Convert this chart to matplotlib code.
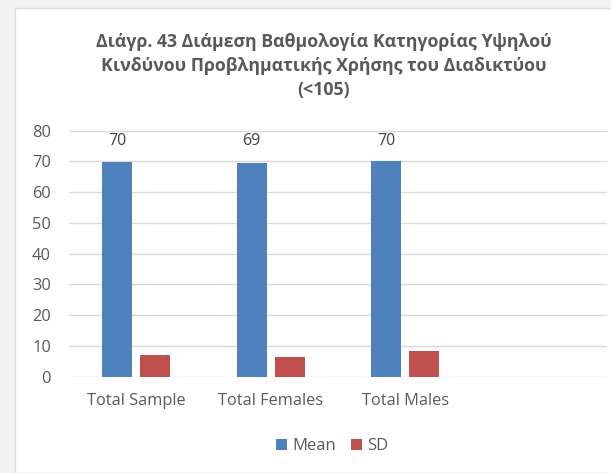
import matplotlib
matplotlib.use("Agg")
import matplotlib.pyplot as plt
from matplotlib.patches import Rectangle
import numpy as np

plt.rcParams['font.family'] = ['Open Sans', 'DejaVu Sans']

categories = ["Total Sample", "Total Females", "Total Males", ""]
mean_vals = [69.7, 69.4, 70.1]
sd_vals = [7.0, 6.3, 8.3]
mean_labels = ["70", "69", "70"]
title = ("Διάγρ. 43 Διάμεση Βαθμολογία Κατηγορίας Υψηλού\n"
         "Κινδύνου Προβληματικής Χρήσης του Διαδικτύου\n(<105)")

blue = "#4f81bd"
red = "#c0504d"
grey_txt = "#595959"

fig = plt.figure(figsize=(6.11, 4.73), dpi=100, facecolor="#f2f2f2")
# white chart area with thin border
bg = Rectangle((15 / 611, 0), 1, 1 - 8 / 473, transform=fig.transFigure,
               facecolor="white", edgecolor="#d9d9d9", lw=1, zorder=-10)
fig.add_artist(bg)

ax = fig.add_axes([69 / 611, 1 - 376.7 / 473, 538 / 611, 246 / 473])
ax.set_facecolor("none")

x = np.arange(len(categories))
w = 0.223
off = w / 2 + 0.03
b1 = ax.bar(x[:3] - off, mean_vals, w, color=blue, label="Mean", zorder=3)
b2 = ax.bar(x[:3] + off, sd_vals, w, color=red, label="SD", zorder=3)

for rect, lab in zip(b1, mean_labels):
    ax.text(rect.get_x() + rect.get_width() / 2, 76.5, lab, ha="center", va="center",
            fontsize=11.5, color="#404040")

ax.set_xlim(-0.5, 3.5)
ax.set_ylim(0, 80)
ax.set_yticks(range(0, 81, 10))
ax.set_xticks(x)
ax.set_xticklabels(categories)
ax.grid(axis="y", color="#d9d9d9", lw=1, zorder=0)
ax.set_axisbelow(True)
for s in ax.spines.values():
    s.set_visible(False)
ax.tick_params(length=0, colors=grey_txt, labelsize=11.8)
ax.tick_params(axis="y", pad=13)
ax.tick_params(axis="x", pad=12)

fig.text(0.53, 1 - 66 / 473, title, ha="center", va="center", fontsize=12.8,
         fontweight="bold", color=grey_txt, linespacing=1.45)

fig.legend(handles=[b1, b2], labels=["Mean", "SD"], loc="center",
           bbox_to_anchor=(332 / 611, 1 - 446 / 473), ncol=2, frameon=False,
           fontsize=12, labelcolor=grey_txt, handlelength=0.65, handleheight=0.65,
           handletextpad=0.3, columnspacing=0.9)

fig.savefig("out.png", dpi=100, facecolor=fig.get_facecolor())
